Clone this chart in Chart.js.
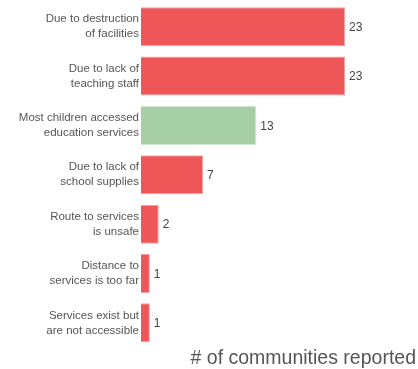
<!DOCTYPE html>
<html>
<head>
<meta charset="utf-8">
<script src="https://cdn.jsdelivr.net/npm/chart.js@4"></script>
<style>
html,body{margin:0;padding:0;background:#fff;}
#wrap{width:418px;height:369px;}
</style>
</head>
<body>
<div id="wrap"><canvas id="chart"></canvas></div>
<script>

/* DATA */

const categories=[
["Due to destruction","of facilities"],
["Due to lack of","teaching staff"],
["Most children accessed","education services"],
["Due to lack of","school supplies"],
["Route to services","is unsafe"],
["Distance to","services is too far"],
["Services exist but","are not accessible"]
];

const values=[23,23,13,7,2,1,1];

const barColors=["#ef5658","#ef5658","#a6cfa6","#ef5658","#ef5658","#ef5658","#ef5658"];
const edgeColors=["#f6a0a1","#f6a0a1","#cfe6cf","#f6a0a1","#f6a0a1","#f6a0a1","#f6a0a1"];

const axisTitle="# of communities reported";


/* VALUE LABELS */

const valueLabels={
id:"valueLabels",
afterDatasetsDraw(chart){
const ctx=chart.ctx;
const meta=chart.getDatasetMeta(0);
ctx.save();
ctx.font="12px 'Liberation Sans', Arial, sans-serif";
ctx.fillStyle="#444";
ctx.textAlign="left";
ctx.textBaseline="middle";
meta.data.forEach((bar,i)=>{
ctx.fillText(values[i],bar.x+4,bar.y+1);
});
ctx.restore();
}
};


/* BAR CHART */

new Chart(document.getElementById("chart"),{

type:"bar",

data:{
labels:categories,
datasets:[{
data:values,
backgroundColor:barColors,
borderColor:edgeColors,
borderWidth:1,
barPercentage:0.79,
categoryPercentage:1
}]
},

options:{
indexAxis:"y",
responsive:true,
maintainAspectRatio:false,
animation:false,
layout:{padding:{top:2,right:2,left:0,bottom:0}},
plugins:{
legend:{display:false},
tooltip:{enabled:false}
},
scales:{
x:{
min:0,
max:31,
grid:{display:false,drawTicks:false},
border:{display:false},
ticks:{display:false},
title:{
display:true,
text:axisTitle,
align:"end",
color:"#555",
font:{family:"'Liberation Sans', Arial, sans-serif",size:19.5,lineHeight:1.1},
padding:{top:0,bottom:0}
}
},
y:{
grid:{display:false,drawTicks:false},
border:{display:false},
ticks:{
color:"#555",
padding:2,
font:{family:"'Liberation Sans', Arial, sans-serif",size:11.5,lineHeight:1.3}
},
afterFit(scale){
scale.width=141;
scale.paddingTop=0;
scale.paddingBottom=0;
}
}
}
},

plugins:[valueLabels]

});

</script>
</body>
</html>
